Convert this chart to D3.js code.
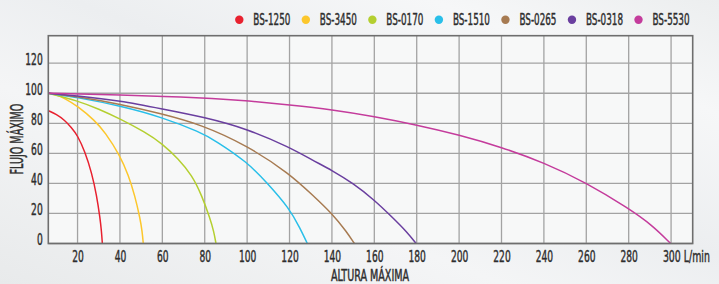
<!DOCTYPE html>
<html>
<head>
<meta charset="utf-8">
<script src="https://cdn.jsdelivr.net/npm/d3@7"></script>
<style>
  html, body { margin: 0; padding: 0; }
  body { width: 719px; height: 284px; overflow: hidden; }
  svg text { font-family: "Liberation Sans Narrow", "DejaVu Sans Condensed", "Liberation Sans", sans-serif; fill: #2e2e2e; stroke: #2e2e2e; stroke-width: 0.45px; }
</style>
</head>
<body>
<svg id="chart"></svg>
<script>
// series: [altura, flujo]
const names = ['BS-1250', 'BS-3450', 'BS-0170', 'BS-1510', 'BS-0265', 'BS-0318', 'BS-5530'];
const colors = ['#e8212f', '#fcc72c', '#b4cf30', '#29bfe9', '#a77b52', '#6a3f9f', '#c43c9c'];

const bs1250 = [[6.2, 88.4], [10, 86], [14, 82], [17, 77.3], [20, 72], [23.5, 61], [26.7, 47], [29, 32], [30.6, 17], [31.3, 8], [31.7, 0]];
const bs3450 = [[6.2, 100], [10, 99], [14, 96.5], [20, 91.5], [28, 82], [33, 74], [40, 58.6], [44, 45.4], [47, 32], [49.5, 16.7], [50.5, 8], [51, 0]];
const bs0170 = [[6.2, 100], [20, 95], [30, 89.5], [40, 83], [52, 74], [60, 66.4], [67.5, 56.4], [74, 45.4], [78.6, 32], [82.5, 16.7], [84.3, 8], [85.3, 0]];
const bs1510 = [[6.2, 100], [20, 97.2], [40, 91.7], [60, 84], [78, 74], [85, 68.5], [100, 54.2], [109, 41], [120, 23.3], [125, 10], [128.4, 0]];
const bs0265 = [[6.2, 100], [20, 97.7], [40, 92.8], [60, 86.2], [78, 79.3], [100, 65.2], [120, 46.5], [131, 32], [140, 20], [147, 7.8], [150.6, 0]];
const bs0318 = [[6.2, 100], [20, 98.3], [40, 95], [60, 89.5], [80, 84], [100, 76.3], [120, 64], [131, 55.3], [140, 48.7], [150, 40], [160, 29], [169, 16.7], [175.3, 7.8], [179.7, 0]];
const bs5530 = [[6.2, 100], [20, 99.5], [40, 98.8], [60, 98], [85, 96.5], [100, 95], [120, 92.2], [140, 89.1], [160, 84.5], [180, 78.9], [200, 72.3], [220, 64.1], [240, 53.8], [260, 40.5], [280, 23.3], [291, 12.3], [299.8, 0]];
const curves = [bs1250, bs3450, bs0170, bs1510, bs0265, bs0318, bs5530];

const xTicks = [20, 40, 60, 80, 100, 120, 140, 160, 180, 200, 220, 240, 260, 280, 300];
const yTicks = [0, 20, 40, 60, 80, 100, 120];
const xUnit = 'L/min';
const xTitle = 'ALTURA MÁXIMA';
const yTitle = 'FLUJO MÁXIMO';

const width = 719, height = 284;
const margin = {top: 35.7, right: 26.3, bottom: 40.5, left: 48.3};

const svg = d3.select('#chart').attr('width', width).attr('height', height);

// the reference uses a very condensed face: work out how much to squeeze
// the installed font so a digit comes out at the wanted width
function squeezeFor(size, digitW) {
  const probe = svg.append('text').attr('font-size', size).text('0000000000');
  const w = probe.node().getComputedTextLength() / 10;
  probe.remove();
  return digitW / w;
}
function squish(sel, k) {
  sel.each(function() {
    const w = this.getComputedTextLength();
    d3.select(this).attr('textLength', w * k).attr('lengthAdjust', 'spacingAndGlyphs');
  });
}

const defs = svg.append('defs');
const bg = defs.append('linearGradient').attr('id', 'bg')
  .attr('x1', '0%').attr('y1', '100%').attr('x2', '100%').attr('y2', '0%');
bg.append('stop').attr('offset', '0%').attr('stop-color', '#e8eaeb');
bg.append('stop').attr('offset', '35%').attr('stop-color', '#f4f5f6');
bg.append('stop').attr('offset', '55%').attr('stop-color', '#eceef0');
bg.append('stop').attr('offset', '80%').attr('stop-color', '#f6f7f8');
bg.append('stop').attr('offset', '100%').attr('stop-color', '#eceeef');

svg.append('rect').attr('width', width).attr('height', height).attr('fill', 'url(#bg)');

const x = d3.scaleLinear().domain([6.2, 310.2]).range([margin.left, width - margin.right]);
const y = d3.scaleLinear().domain([0, 138.3]).range([height - margin.bottom, margin.top]);
const pw = x.range()[1] - x.range()[0];
const ph = y.range()[0] - y.range()[1];

defs.append('clipPath').attr('id', 'plot')
  .append('rect')
  .attr('x', margin.left).attr('y', margin.top)
  .attr('width', pw).attr('height', ph);

svg.append('rect')
  .attr('x', margin.left).attr('y', margin.top)
  .attr('width', pw).attr('height', ph)
  .attr('fill', '#f7f8f8');

// grid
svg.append('g')
  .attr('stroke', '#a3a3a3').attr('stroke-width', 1.3)
  .selectAll('line')
  .data(xTicks)
  .join('line')
    .attr('x1', d => x(d)).attr('x2', d => x(d))
    .attr('y1', y.range()[1]).attr('y2', y.range()[0]);

svg.append('g')
  .attr('stroke', '#a3a3a3').attr('stroke-width', 1.3)
  .selectAll('line')
  .data(yTicks)
  .join('line')
    .attr('x1', x.range()[0]).attr('x2', x.range()[1])
    .attr('y1', d => y(d)).attr('y2', d => y(d));

// curves
const line = d3.line()
  .x(d => x(d[0]))
  .y(d => y(d[1]))
  .curve(d3.curveBasis);

svg.append('g')
  .attr('clip-path', 'url(#plot)')
  .attr('fill', 'none').attr('stroke-width', 1.5)
  .selectAll('path')
  .data(curves)
  .join('path')
    .attr('stroke', (d, i) => colors[i])
    .attr('d', line);

// frame
svg.append('rect')
  .attr('x', margin.left).attr('y', margin.top)
  .attr('width', pw).attr('height', ph)
  .attr('fill', 'none').attr('stroke', '#6e6e6e').attr('stroke-width', 1.6);

// axes
const tickSize = 16.5;
const kTick = squeezeFor(tickSize, 5.8);
const xAxis = svg.append('g')
  .attr('transform', `translate(0,${y.range()[0]})`)
  .call(d3.axisBottom(x).tickValues(xTicks).tickSize(0).tickPadding(7)
    .tickFormat(d => d === 300 ? `300 ${xUnit}` : d));
const yAxis = svg.append('g')
  .attr('transform', `translate(${margin.left},0)`)
  .call(d3.axisLeft(y).tickValues(yTicks).tickSize(0).tickPadding(5.6));

[xAxis, yAxis].forEach(g => {
  g.select('.domain').remove();
  g.attr('font-family', null).attr('font-size', null);
  g.selectAll('text').attr('font-size', tickSize).attr('fill', null);
});
squish(yAxis.selectAll('text'), kTick);
squish(xAxis.selectAll('text').filter(d => d !== 300), kTick);
yAxis.selectAll('text').attr('dy', '0.06em');
// last tick carries the unit: keep "300" on its grid line, squeeze by transform
const kUnit = kTick * 1.03;
xAxis.selectAll('.tick text').filter(d => d === 300)
  .attr('text-anchor', 'start')
  .attr('x', -8.7 / kUnit)
  .attr('transform', `scale(${kUnit},1)`);

const titleSize = 16;
const xt = svg.append('text')
  .attr('x', 370).attr('y', 280.5)
  .attr('text-anchor', 'middle')
  .attr('font-size', titleSize)
  .text(xTitle);
squish(xt, squeezeFor(titleSize, 6.1));

const yt = svg.append('text')
  .attr('transform', `translate(22.8,139) rotate(-90)`)
  .attr('text-anchor', 'middle')
  .attr('font-size', 17.5)
  .text(yTitle);
squish(yt, squeezeFor(17.5, 6.1));

// legend
const legendSize = 16.5;
const kLegend = squeezeFor(legendSize, 5.6);
const legend = svg.append('g');
let lx = 239.3;
names.forEach((name, i) => {
  legend.append('circle')
    .attr('cx', lx).attr('cy', 19.8).attr('r', 4.2)
    .attr('fill', colors[i]);
  const t = legend.append('text')
    .attr('x', lx + 14).attr('y', 25.2)
    .attr('font-size', legendSize)
    .text(name);
  squish(t, kLegend);
  lx += 14 + (+t.attr('textLength')) + 15.5;
});
</script>
</body>
</html>
